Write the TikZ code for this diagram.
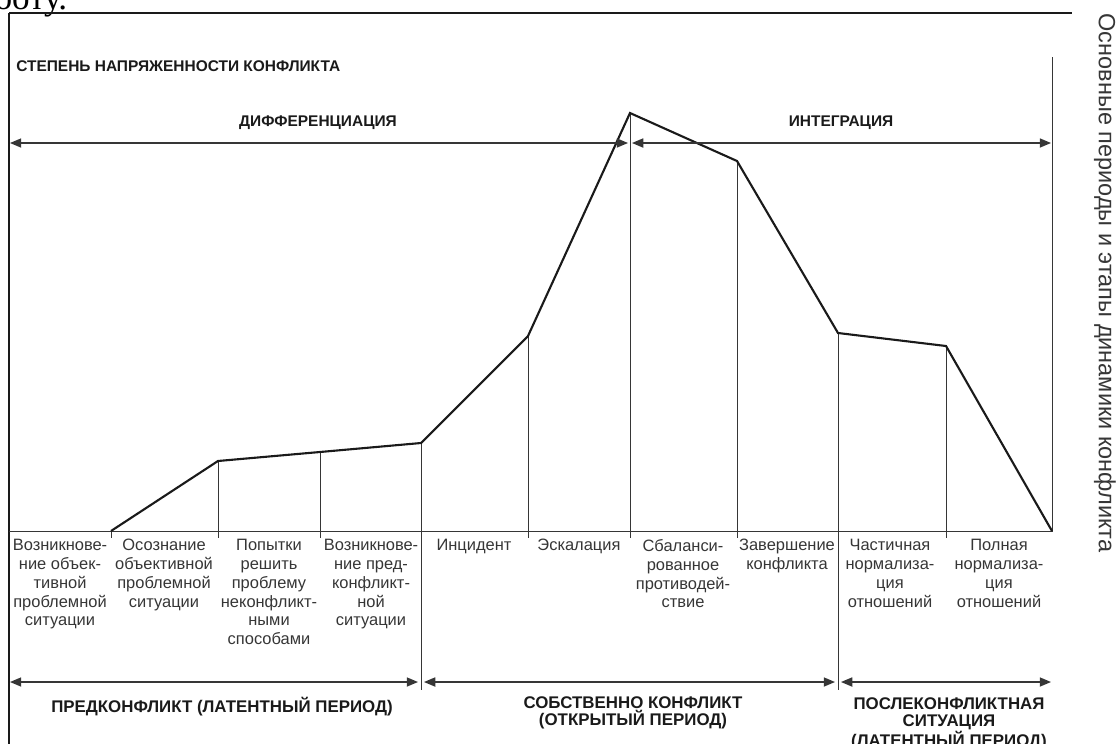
\documentclass[tikz,border=0pt]{standalone}
\usepackage{fontspec}
\setmainfont{Liberation Sans}
\newfontfamily\pagefont{Liberation Serif}
\usepackage{xcolor}
\definecolor{inkdark}{HTML}{1A1A1A}
\definecolor{inkgrey}{HTML}{363636}
\usetikzlibrary{arrows.meta,positioning,calc}

\begin{document}
\begin{tikzpicture}[x=0.025cm, y=-0.025cm,
    stage/.style={font=\fontsize{11.7}{13.4}\selectfont, text=inkgrey, align=center, anchor=north, inner sep=0pt},
    period/.style={font=\fontsize{12}{12.2}\selectfont\bfseries, text=inkdark, align=center, anchor=north, inner sep=0pt},
    phase/.style={font=\fontsize{11}{13}\selectfont\bfseries, text=inkdark, inner sep=0pt},
    span/.style={arrows={Triangle[length=8pt,width=6.5pt]-Triangle[length=8pt,width=6.5pt]}, line width=0.9pt, draw=inkgrey},
    divider/.style={line width=0.7pt, draw=inkgrey},
    curve/.style={line width=1.5pt, draw=inkdark, line join=miter}
  ]
    \useasboundingbox (0,0) rectangle (1120,744);

    % scrap of the page text above the figure
    \node[anchor=base west, font=\pagefont\fontsize{25}{25}\selectfont, inner sep=0pt] (pagetext) at (-6,9) {боту.};

    % frame
    \coordinate (corner) at (9,13);
    \coordinate (bottomleft) at (9,744);
    \coordinate (topright) at (1072,13);
    \draw[line width=1.8pt, inkdark] (bottomleft) -- (corner);
    \draw[line width=1pt, inkdark] (corner) -- (topright);

    % axis
    \coordinate (o) at (9,531);
    \coordinate (etop) at (1052,57);
    \coordinate (tick) at (0,538);
    \coordinate (cut) at (0,690);

    % curve points
    \coordinate (c0) at (111,531);
    \coordinate (c1) at (218,461);
    \coordinate (c2) at (320,452);
    \coordinate (c3) at (421,443);
    \coordinate (c4) at (528,336);
    \coordinate (c5) at (630,113);
    \coordinate (c6) at (737,161);
    \coordinate (c7) at (838,333);
    \coordinate (c8) at (946,346);
    \coordinate (c9) at (1052,531);

    \draw[divider] (o) -- (c9) -- (etop);
    \draw[divider] (c0) -- (c0 |- tick);
    \draw[divider] (c1) -- (c1 |- tick);
    \draw[divider] (c2) -- (c2 |- tick);
    \draw[divider] (c4) -- (c4 |- tick);
    \draw[divider] (c5) -- (c5 |- tick);
    \draw[divider] (c6) -- (c6 |- tick);
    \draw[divider] (c8) -- (c8 |- tick);
    \draw[divider] (c3) -- (c3 |- cut);
    \draw[divider] (c7) -- (c7 |- cut);

    \draw[curve] (c0) -- (c1) -- (c2) -- (c3) -- (c4) -- (c5) -- (c6) -- (c7) -- (c8) -- (c9);

    % top
    \node[phase, anchor=west] (axis) at (16,66) {СТЕПЕНЬ НАПРЯЖЕННОСТИ КОНФЛИКТА};
    \node[phase] (diff) at (318,123) {ДИФФЕРЕНЦИАЦИЯ};
    \node[phase] (integ) at (841,123) {ИНТЕГРАЦИЯ};

    \coordinate (dl) at (10,143);
    \coordinate (dr) at (628,143);
    \coordinate (il) at (632,143);
    \coordinate (ir) at (1051,143);
    \draw[span] (dl) -- (dr);
    \draw[span] (il) -- (ir);

    % stages
    \node[stage] (s1) at (60,539) {Возникнове-\\ние объек-\\тивной\\проблемной\\ситуации};
    \node[stage] (s2) at (164,539) {Осознание\\объективной\\проблемной\\ситуации};
    \node[stage] (s3) at (269,539) {Попытки\\решить\\проблему\\неконфликт-\\ными\\способами};
    \node[stage] (s4) at (371,539) {Возникнове-\\ние пред-\\конфликт-\\ной\\ситуации};
    \node[stage] (s5) at (474,539) {Инцидент};
    \node[stage] (s6) at (579,539) {Эскалация};
    \node[stage] (s7) at (683,539) {Сбаланси-\\рованное\\противодей-\\ствие};
    \node[stage] (s8) at (787,539) {Завершение\\конфликта};
    \node[stage] (s9) at (890,539) {Частичная\\нормализа-\\ция\\отношений};
    \node[stage] (s10) at (999,539) {Полная\\нормализа-\\ция\\отношений};

    % periods
    \coordinate (al) at (10,682);
    \coordinate (ar) at (418,682);
    \coordinate (bl) at (424,682);
    \coordinate (br) at (835,682);
    \coordinate (pl) at (841,682);
    \coordinate (pr) at (1051,682);
    \draw[span] (al) -- (ar);
    \draw[span] (bl) -- (br);
    \draw[span] (pl) -- (pr);

    \node[period] (pre) at (222,697) {ПРЕДКОНФЛИКТ (ЛАТЕНТНЫЙ ПЕРИОД)};
    \node[period] (open) at (633,696) {СОБСТВЕННО КОНФЛИКТ\\(ОТКРЫТЫЙ ПЕРИОД)};
    \node[period] (post) at (949,697) {ПОСЛЕКОНФЛИКТНАЯ\\СИТУАЦИЯ\\(ЛАТЕНТНЫЙ ПЕРИОД)};

    % side caption
    \node[font=\fontsize{16.7}{17}\selectfont, text=inkgrey, rotate=-90, inner sep=0pt] (caption) at (1105,283) {Основные периоды и этапы динамики конфликта};
  \end{tikzpicture}
\end{document}
